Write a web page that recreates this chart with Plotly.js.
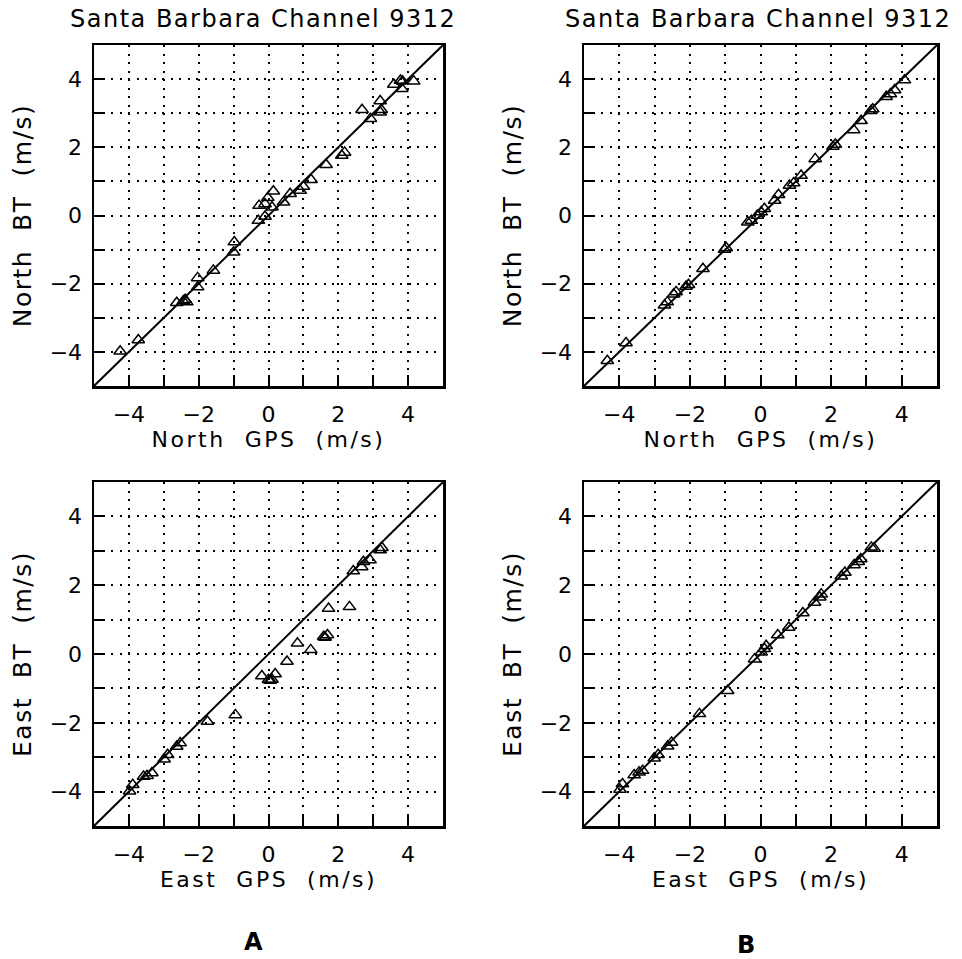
<!DOCTYPE html>
<html>
<head>
<meta charset="utf-8">
<script src="https://cdn.plot.ly/plotly-3.0.1.min.js"></script>
<style>
html,body{margin:0;padding:0;background:#fff}
#chart{width:962px;height:959px}
.xtitle,.x2title,.x3title,.x4title{letter-spacing:2.5px}
.ytitle,.y2title,.y3title,.y4title{letter-spacing:1.5px}
.annotation-text{letter-spacing:1.5px}
</style>
</head>
<body>
<div id="chart"></div>
<script>
// ---- Data ----
const northGpsA = [-4.25,-3.73,-2.63,-2.44,-2.34,-2.39,-2.03,-2.03,-1.58,-1.0,-0.98,-0.29,-0.10,-0.27,-0.10,-0.02,0.14,0.10,0.43,0.62,0.91,1.0,1.22,1.65,2.10,2.18,2.68,2.92,3.20,3.20,3.23,3.59,3.78,3.82,3.84,4.16];
const northBtA  = [-3.98,-3.65,-2.56,-2.51,-2.54,-2.47,-2.10,-1.83,-1.61,-1.08,-0.78,-0.15,-0.03,0.29,0.34,0.52,0.71,0.24,0.39,0.64,0.73,0.85,1.05,1.49,1.76,1.85,3.10,2.84,3.36,3.03,3.10,3.84,3.96,3.72,3.94,3.94];

const northGpsB = [-4.34,-3.81,-2.72,-2.64,-2.46,-2.39,-2.11,-2.04,-1.63,-1.02,-0.97,-0.36,-0.26,-0.09,0.02,0.11,0.40,0.51,0.82,0.94,1.15,1.55,2.05,2.12,2.64,2.85,3.13,3.18,3.56,3.68,3.80,4.08];
const northBtB  = [-4.26,-3.74,-2.63,-2.54,-2.31,-2.24,-2.08,-2.03,-1.56,-1.00,-0.95,-0.20,-0.15,0.00,0.10,0.20,0.44,0.61,0.88,0.95,1.17,1.66,2.02,2.08,2.51,2.78,3.07,3.12,3.48,3.56,3.68,3.97];

const eastGpsA = [-3.98,-3.89,-3.58,-3.48,-3.34,-2.99,-2.89,-2.63,-2.53,-1.75,-0.95,-0.19,0.0,0.10,0.19,0.05,0.53,0.83,1.21,1.58,1.69,1.62,1.72,2.32,2.43,2.67,2.72,2.91,3.20,3.25];
const eastBtA  = [-3.99,-3.80,-3.56,-3.54,-3.46,-3.06,-2.93,-2.69,-2.59,-1.96,-1.77,-0.64,-0.75,-0.74,-0.58,-0.77,-0.22,0.31,0.12,0.50,0.55,0.48,1.32,1.37,2.41,2.53,2.68,2.73,3.02,3.09];

const eastGpsB = [-3.98,-3.91,-3.58,-3.44,-3.34,-3.01,-2.90,-2.63,-2.52,-1.73,-0.93,-0.17,0.02,0.11,0.16,0.49,0.80,1.20,1.53,1.68,1.72,2.29,2.39,2.65,2.77,2.84,3.14,3.22];
const eastBtB  = [-3.94,-3.78,-3.52,-3.44,-3.39,-3.03,-2.93,-2.68,-2.57,-1.74,-1.07,-0.15,0.05,0.15,0.24,0.55,0.77,1.19,1.50,1.65,1.74,2.26,2.37,2.59,2.68,2.76,3.10,3.07];

const lineX = [-5, 5];
const lineY = [-5, 5];

const tickVals = [-4,-3,-2,-1,0,1,2,3,4];
const tickText = ['\u22124','','\u22122','','0','','2','','4'];

const chartTitle = 'Santa Barbara Channel 9312';
const panelLabels = ['A','B'];
const xTitleN = 'North\u00a0\u00a0GPS\u00a0\u00a0(m/s)';
const yTitleN = 'North\u00a0\u00a0BT\u00a0\u00a0(m/s)';
const xTitleE = 'East\u00a0\u00a0GPS\u00a0\u00a0(m/s)';
const yTitleE = 'East\u00a0\u00a0BT\u00a0\u00a0(m/s)';

// ---- Traces ----
const FONT = 'DejaVu Sans, sans-serif';
function pts(x, y, xa, ya){
  return {x:x, y:y, xaxis:xa, yaxis:ya, mode:'markers', type:'scatter', hoverinfo:'x+y',
    marker:{symbol:'triangle-up-open', size:11, color:'#000', line:{width:1.5, color:'#000'}}};
}
function diag(xa, ya){
  return {x:lineX, y:lineY, xaxis:xa, yaxis:ya, mode:'lines', type:'scatter', hoverinfo:'skip',
    line:{color:'#000', width:2}};
}
const data = [
  diag('x','y'), pts(northGpsA, northBtA, 'x','y'),
  diag('x2','y2'), pts(northGpsB, northBtB, 'x2','y2'),
  diag('x3','y3'), pts(eastGpsA, eastBtA, 'x3','y3'),
  diag('x4','y4'), pts(eastGpsB, eastBtB, 'x4','y4')
];

function ax(domain, anchor, title, isY){
  return {
    domain: domain, anchor: anchor, range:[-5,5], fixedrange:true,
    tickmode:'array', tickvals: tickVals, ticktext: tickText,
    ticks:'inside', ticklen:11, tickwidth:2, tickcolor:'#000',
    showline:true, linecolor:'#000', linewidth:2.5, mirror:true,
    showgrid:true, gridcolor:'#000', gridwidth:2, griddash:'2px,6.5px',
    zeroline:false,
    tickfont:{family:FONT, size:22, color:'#000'},
    ticklabelstandoff: isY ? 5 : 7,
    title:{text:title, font:{family:FONT, size: isY ? 25 : 22, color:'#000'}, standoff: isY ? 11 : 6}
  };
}
const xA = [94/962, 443/962], xB = [584/962, 937/962];
const yTop = [1-386/959, 1-45/959], yBot = [1-826/959, 1-482/959];

const layout = {
  width:962, height:959,
  margin:{l:0, r:0, t:0, b:0},
  paper_bgcolor:'#fff', plot_bgcolor:'#fff',
  showlegend:false,
  font:{family:FONT, color:'#000'},
  xaxis:  ax(xA, 'y',  xTitleN, false),
  yaxis:  ax(yTop, 'x', yTitleN, true),
  xaxis2: ax(xB, 'y2', xTitleN, false),
  yaxis2: ax(yTop, 'x2', yTitleN, true),
  xaxis3: ax(xA, 'y3', xTitleE, false),
  yaxis3: ax(yBot, 'x3', yTitleE, true),
  xaxis4: ax(xB, 'y4', xTitleE, false),
  yaxis4: ax(yBot, 'x4', yTitleE, true),
  annotations:[
    {text:chartTitle, xref:'paper', yref:'paper', x:263/962, y:1-19/959, showarrow:false,
     xanchor:'center', yanchor:'middle', font:{family:FONT, size:24, color:'#000'}},
    {text:chartTitle, xref:'paper', yref:'paper', x:758/962, y:1-19/959, showarrow:false,
     xanchor:'center', yanchor:'middle', font:{family:FONT, size:24, color:'#000'}},
    {text:panelLabels[0], xref:'paper', yref:'paper', x:254/962, y:1-942/959, showarrow:false,
     xanchor:'center', yanchor:'middle', font:{family:FONT, size:24, weight:'bold', color:'#000'}},
    {text:panelLabels[1], xref:'paper', yref:'paper', x:747/962, y:1-945/959, showarrow:false,
     xanchor:'center', yanchor:'middle', font:{family:FONT, size:24, weight:'bold', color:'#000'}}
  ]
};

Plotly.newPlot('chart', data, layout, {staticPlot:true, displayModeBar:false});
</script>
</body>
</html>
